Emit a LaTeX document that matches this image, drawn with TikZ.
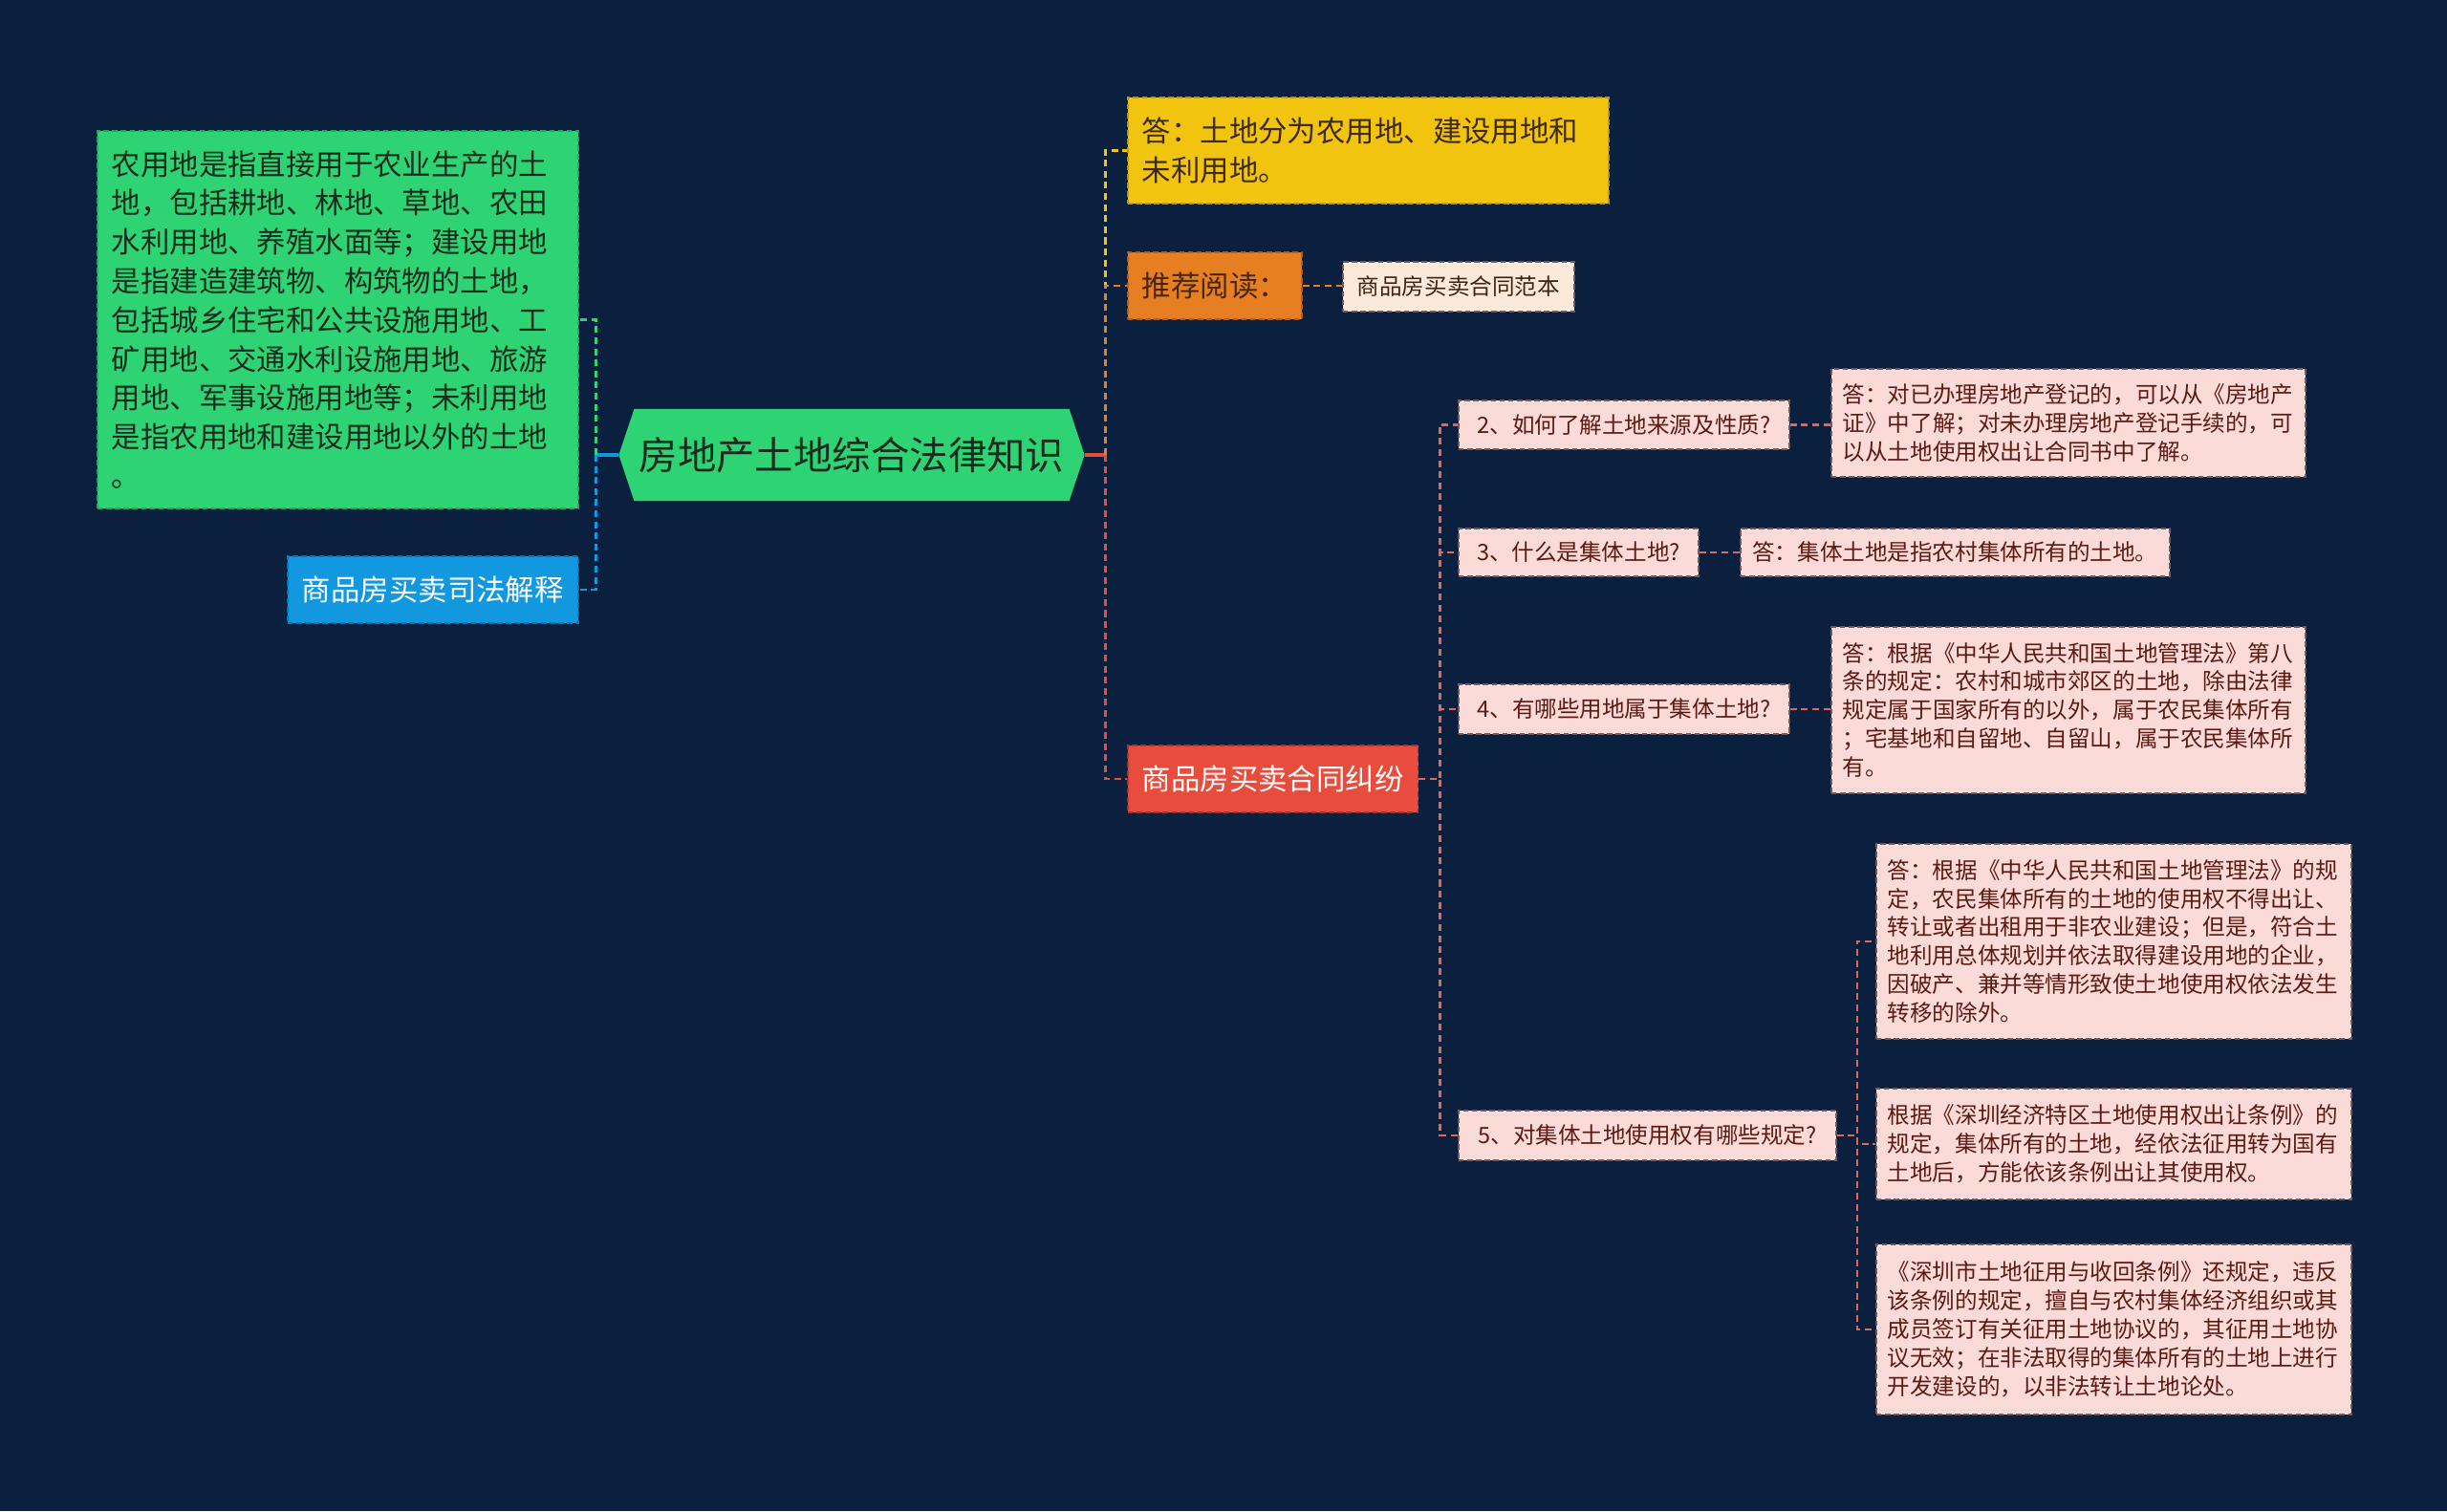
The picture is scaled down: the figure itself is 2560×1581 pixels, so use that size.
\documentclass[tikz,border=0pt]{standalone}
\usepackage{fontspec}
\setmainfont{Noto Sans CJK SC}
\usepackage{xcolor}
\usepackage{tikz}
\usetikzlibrary{shapes.symbols}

\definecolor{navy}{RGB}{11,32,62}
\definecolor{cgreen}{RGB}{46,212,115}
\definecolor{cgreenline}{RGB}{34,170,90}
\definecolor{cgreentext}{RGB}{24,44,30}
\definecolor{cblue}{RGB}{18,152,222}
\definecolor{cblueline}{RGB}{12,115,175}
\definecolor{cyellow}{RGB}{241,196,15}
\definecolor{cyellowline}{RGB}{190,150,10}
\definecolor{cyellowtext}{RGB}{62,42,10}
\definecolor{corange}{RGB}{230,126,34}
\definecolor{corangeline}{RGB}{180,95,25}
\definecolor{corangetext}{RGB}{70,38,12}
\definecolor{cred}{RGB}{231,76,60}
\definecolor{credline}{RGB}{170,50,40}
\definecolor{csalmon}{RGB}{222,104,90}
\definecolor{cbeige}{RGB}{251,234,218}
\definecolor{cbeigetext}{RGB}{62,36,16}
\definecolor{cpink}{RGB}{250,219,216}
\definecolor{cpinkline}{RGB}{110,90,95}
\definecolor{cpinktext}{RGB}{92,26,18}

\begin{document}
\begin{tikzpicture}[x=0.01cm, y=-0.01cm,
		bigfont/.style={font=\fontsize{8.65pt}{11.6pt}\selectfont},
		smallfont/.style={font=\fontsize{6.7pt}{8.5pt}\selectfont},
		cardbox/.style={anchor=north west, inner ysep=0pt, inner xsep=0.15cm, dash pattern=on 1.6pt off 1pt, line width=0.45pt},
		greencard/.style={cardbox, bigfont, fill=cgreen, draw=cgreenline, text=cgreentext},
		bluecard/.style={cardbox, bigfont, fill=cblue, draw=cblueline, text=white},
		yellowcard/.style={cardbox, bigfont, fill=cyellow, draw=cyellowline, text=cyellowtext},
		orangecard/.style={cardbox, bigfont, fill=corange, draw=corangeline, text=corangetext},
		redcard/.style={cardbox, bigfont, fill=cred, draw=credline, text=white},
		beigecard/.style={cardbox, smallfont, fill=cbeige, draw=cpinkline, text=cbeigetext},
		pinkcard/.style={cardbox, smallfont, inner xsep=0.12cm, fill=cpink, draw=cpinkline, text=cpinktext},
		link/.style={line width=0.75pt, dash pattern=on 2pt off 1.3pt},
		linkstub/.style={line width=1.3pt},
	]
	% ---- Canvas ----
	\useasboundingbox (0,0) rectangle (2560,1581);
	\fill[navy] (0,0) rectangle (2560,1581);
	
	% ---- Root ----
	\node[signal, signal to=east and west, signal pointer angle=143, fill=cgreen, text=cgreentext,
		minimum width=4.87cm, minimum height=0.96cm, inner sep=0pt,
		font=\fontsize{11.5pt}{13pt}\selectfont] (root) at (891,476) {房地产土地综合法律知识};
	
	% ---- Left side ----
	\node[greencard, text width=4.73cm, minimum height=3.95cm, align=left] (landdef) at (101,136)
		{农用地是指直接用于农业生产的土\\地，包括耕地、林地、草地、农田\\水利用地、养殖水面等；建设用地\\是指建造建筑物、构筑物的土地，\\包括城乡住宅和公共设施用地、工\\矿用地、交通水利设施用地、旅游\\用地、军事设施用地等；未利用地\\是指农用地和建设用地以外的土地\\。};
	\node[bluecard, minimum width=3.04cm, minimum height=0.70cm] (judicial) at (300,581) {商品房买卖司法解释};
	
	% ---- Right side (first level) ----
	\node[yellowcard, text width=4.73cm, minimum height=1.11cm, align=left] (answer1) at (1179,101)
		{答：土地分为农用地、建设用地和\\未利用地。};
	\node[orangecard, minimum width=1.81cm, minimum height=0.70cm] (recommend) at (1179,263) {推荐阅读：};
	\node[beigecard, minimum width=2.37cm, minimum height=0.52cm] (sample) at (1404,273) {商品房买卖合同范本};
	\node[redcard, minimum width=3.03cm, minimum height=0.70cm] (dispute) at (1179,779) {商品房买卖合同纠纷};
	
	% ---- Questions ----
	\node[pinkcard, minimum width=3.46cm, minimum height=0.51cm] (q2) at (1525,418) {2、如何了解土地来源及性质?};
	\node[pinkcard, minimum width=2.51cm, minimum height=0.50cm] (q3) at (1525,552) {3、什么是集体土地?};
	\node[pinkcard, minimum width=3.46cm, minimum height=0.52cm] (q4) at (1525,715) {4、有哪些用地属于集体土地?};
	\node[pinkcard, minimum width=3.95cm, minimum height=0.52cm] (q5) at (1525,1161) {5、对集体土地使用权有哪些规定?};
	
	% ---- Answers ----
	\node[pinkcard, text width=4.72cm, minimum height=1.13cm, align=left] (a2) at (1915,385)
		{答：对已办理房地产登记的，可以从《房地产\\证》中了解；对未办理房地产登记手续的，可\\以从土地使用权出让合同书中了解。};
	\node[pinkcard, minimum width=4.49cm, minimum height=0.50cm] (a3) at (1820,552) {答：集体土地是指农村集体所有的土地。};
	\node[pinkcard, text width=4.72cm, minimum height=1.74cm, align=left] (a4) at (1915,655)
		{答：根据《中华人民共和国土地管理法》第八\\条的规定：农村和城市郊区的土地，除由法律\\规定属于国家所有的以外，属于农民集体所有\\；宅基地和自留地、自留山，属于农民集体所\\有。};
	\node[pinkcard, text width=4.73cm, minimum height=2.04cm, align=left] (a5a) at (1962,882)
		{答：根据《中华人民共和国土地管理法》的规\\定，农民集体所有的土地的使用权不得出让、\\转让或者出租用于非农业建设；但是，符合土\\地利用总体规划并依法取得建设用地的企业，\\因破产、兼并等情形致使土地使用权依法发生\\转移的除外。};
	\node[pinkcard, text width=4.73cm, minimum height=1.16cm, align=left] (a5b) at (1962,1138)
		{根据《深圳经济特区土地使用权出让条例》的\\规定，集体所有的土地，经依法征用转为国有\\土地后，方能依该条例出让其使用权。};
	\node[pinkcard, text width=4.73cm, minimum height=1.78cm, align=left] (a5c) at (1962,1301)
		{《深圳市土地征用与收回条例》还规定，违反\\该条例的规定，擅自与农村集体经济组织或其\\成员签订有关征用土地协议的，其征用土地协\\议无效；在非法取得的集体所有的土地上进行\\开发建设的，以非法转让土地论处。};
	
	% ---- Connectors: left ----
	\draw[linkstub, cblue] (root.west) -- ++(-23,0);
	\draw[link, cgreen] ([xshift=-0.23cm]root.west) |- (landdef.east);
	\draw[link, cblue] ([xshift=-0.23cm]root.west) |- (judicial.east);
	
	% ---- Connectors: right ----
	\draw[linkstub, cred] (root.east) -- ++(21,0);
	\draw[link, cyellow] ([xshift=0.21cm]root.east) |- (answer1.west);
	\draw[link, corange] ([xshift=0.21cm]root.east) |- (recommend.west);
	\draw[link, cred] ([xshift=0.21cm]root.east) |- (dispute.west);
	\draw[link, corange] (recommend.east) -- (recommend.east -| sample.west);
	
	% ---- Connectors: dispute branch ----
	\foreach \q in {q2,q3,q4,q5} {
		\draw[link, csalmon] (dispute.east) -- ++(22,0) |- (\q.west);
	}
	\draw[link, csalmon] (q2.east) -- (q2.east -| a2.west);
	\draw[link, csalmon] (q3.east) -- (q3.east -| a3.west);
	\draw[link, csalmon] (q4.east) -- (q4.east -| a4.west);
	\foreach \a in {a5a,a5b,a5c} {
		\draw[link, csalmon] (q5.east) -- ++(21,0) |- (\a.west);
	}
	
\end{tikzpicture}
\end{document}
